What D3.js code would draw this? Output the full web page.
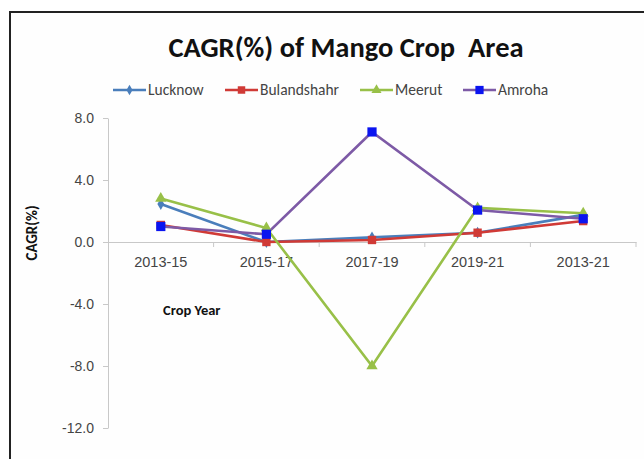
<!DOCTYPE html>
<html>
<head>
<meta charset="utf-8">
<script src="https://cdn.jsdelivr.net/npm/d3@7"></script>
<style>
  body { margin: 0; background: #fff; }
  svg { font-family: Calibri, Carlito, Lato, sans-serif; }
</style>
</head>
<body>
<script>
// --- Data ---
const years = ["2013-15", "2015-17", "2017-19", "2019-21", "2013-21"];
const lucknow = [2.45, 0.0, 0.3, 0.6, 1.75];
const bulandshahr = [1.1, 0.0, 0.13, 0.6, 1.35];
const meerut = [2.8, 0.9, -8.0, 2.2, 1.85];
const amroha = [1.0, 0.5, 7.1, 2.06, 1.5];
const yTicks = [8, 4, 0, -4, -8, -12];

const series = [
  { name: "Lucknow", values: lucknow, line: "#4a7ebb", marker: "#4a7ebb", shape: d3.symbolDiamond, size: 40 },
  { name: "Bulandshahr", values: bulandshahr, line: "#d03a36", marker: "#d03a36", shape: d3.symbolSquare, size: 70 },
  { name: "Meerut", values: meerut, line: "#98c048", marker: "#98c048", shape: d3.symbolTriangle, size: 55 },
  { name: "Amroha", values: amroha, line: "#7d5aa6", marker: "#0a14f0", shape: d3.symbolSquare, size: 85 }
];

const W = 644, H = 459;
const svg = d3.select("body").append("svg")
  .attr("width", W)
  .attr("height", H);

// chart border
svg.append("rect")
  .attr("x", 10).attr("y", 12)
  .attr("width", 660).attr("height", 470)
  .attr("fill", "#fefefe")
  .attr("stroke", "#222").attr("stroke-width", 2);

// Scales
const x = d3.scaleBand().domain(years).range([108, 636]);
const y = d3.scaleLinear().domain([-12, 8]).range([428, 118]);

// Y axis
const yAxis = svg.append("g")
  .attr("transform", "translate(108,0)")
  .call(d3.axisLeft(y).tickValues(yTicks).tickFormat(d3.format(".1f")).tickSize(5).tickSizeOuter(0));
yAxis.select(".domain").attr("stroke", "#c8c8c8");
yAxis.selectAll(".tick line").attr("stroke", "#c8c8c8");
yAxis.selectAll("text").attr("fill", "#444").style("font-size", "14px").attr("x", -14)
  .text(d => d3.format(".1f")(d).replace("−", "-"));

// X axis at zero
const xAxis = svg.append("g")
  .attr("transform", `translate(0,${y(0)})`)
  .call(d3.axisBottom(x).tickSize(0).tickSizeOuter(0));
xAxis.select(".domain").attr("stroke", "#c8c8c8");
xAxis.selectAll("text").attr("fill", "#444").style("font-size", "14.5px").attr("dy", "1.55em");
// tick marks between categories
svg.append("g").selectAll("line")
  .data(years)
  .join("line")
  .attr("x1", d => x(d) + x.bandwidth()).attr("x2", d => x(d) + x.bandwidth())
  .attr("y1", y(0)).attr("y2", y(0) + 5)
  .attr("stroke", "#c8c8c8");

// Lines
const line = d3.line()
  .x((d, i) => x(years[i]) + x.bandwidth() / 2)
  .y(d => y(d));

series.forEach(s => {
  svg.append("path")
    .datum(s.values)
    .attr("fill", "none")
    .attr("stroke", s.line)
    .attr("stroke-width", 2.6)
    .attr("d", line);
});

series.forEach(s => {
  svg.append("g").selectAll("path")
    .data(s.values)
    .join("path")
    .attr("transform", (d, i) => `translate(${x(years[i]) + x.bandwidth() / 2},${y(d)})`)
    .attr("d", d3.symbol().type(s.shape).size(s.size))
    .attr("fill", s.marker);
});

// Title
svg.append("text")
  .attr("x", 346).attr("y", 57)
  .attr("text-anchor", "middle")
  .style("font-size", "28.5px").style("font-weight", "bold")
  .attr("fill", "#111")
  .attr("xml:space", "preserve")
  .text("CAGR(%) of Mango Crop  Area");

// Legend
const legendX = [113, 225, 360, 463];
const legend = svg.append("g");
series.forEach((s, i) => {
  const g = legend.append("g").attr("transform", `translate(${legendX[i]},90)`);
  g.append("line").attr("x1", 0).attr("x2", 33).attr("stroke", s.line).attr("stroke-width", 2.6);
  g.append("path").attr("transform", "translate(16.5,0)")
    .attr("d", d3.symbol().type(s.shape).size(s.size * 0.8)).attr("fill", s.marker);
  g.append("text").attr("x", 35).attr("y", 5)
    .style("font-size", "15.5px").attr("fill", "#444").text(s.name);
});

// Axis titles
svg.append("text")
  .attr("transform", `translate(37,233) rotate(-90)`)
  .attr("text-anchor", "middle")
  .style("font-size", "15px").style("font-weight", "bold")
  .attr("fill", "#111")
  .text("CAGR(%)");

svg.append("text")
  .attr("x", 163).attr("y", 315)
  .style("font-size", "14.5px").style("font-weight", "bold")
  .attr("fill", "#111")
  .text("Crop Year");
</script>
</body>
</html>
